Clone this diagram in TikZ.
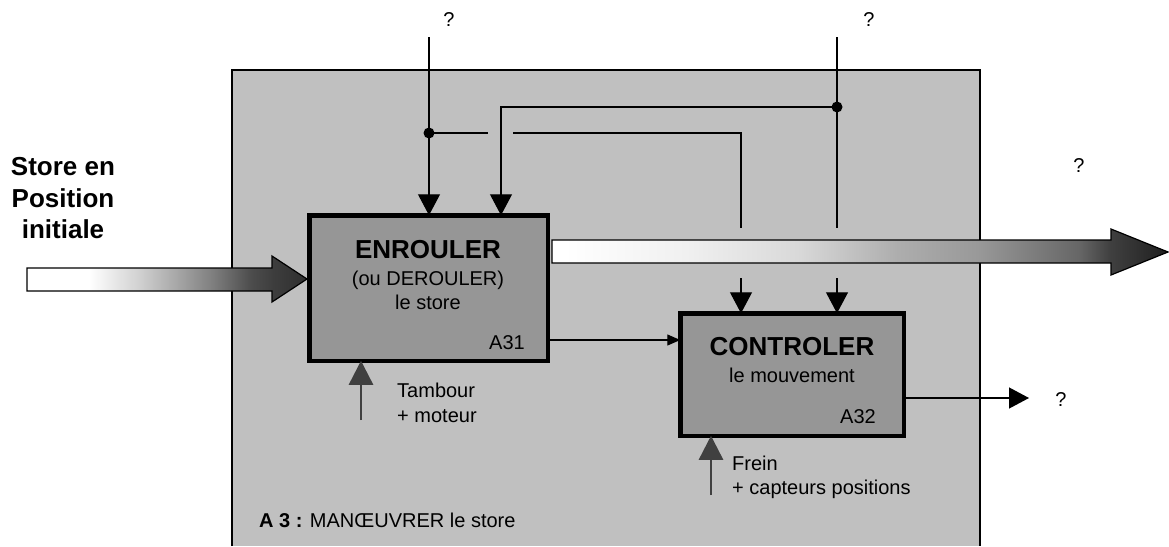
\documentclass[tikz,border=0pt]{standalone}
\usepackage{fontspec}
\setmainfont{Liberation Sans}
\usetikzlibrary{arrows.meta}
\definecolor{contgray}{HTML}{C0C0C0}
\definecolor{boxgray}{HTML}{969696}
\definecolor{mechgray}{HTML}{404040}
\pgfdeclarehorizontalshading{inshade}{100bp}{color(0bp)=(white); color(25bp)=(white); color(36bp)=(white); color(45bp)=(black!18); color(58bp)=(black!50); color(65bp)=(black!70); color(69bp)=(black!76); color(75bp)=(black!82); color(100bp)=(black!82)}
\pgfdeclarehorizontalshading{outshade}{100bp}{color(0bp)=(white); color(26bp)=(white); color(36bp)=(black!6); color(45bp)=(black!15); color(53bp)=(black!32); color(59.5bp)=(black!40); color(67.8bp)=(black!60); color(70.3bp)=(black!75); color(75bp)=(black!88); color(100bp)=(black!88)}
\begin{document}
\begin{tikzpicture}[x=1pt,y=-1pt,
  lbl/.style={font=\fontsize{20}{24}\selectfont, inner sep=0pt},
  ttl/.style={font=\bfseries\fontsize{26}{31}\selectfont, inner sep=0pt},
  fn/.style={draw=black, line width=4.5pt, fill=boxgray, inner sep=0pt, outer sep=0pt},
  sig/.style={line width=1.2pt, -{Triangle[width=22pt,length=21pt]}},
  wire/.style={line width=1.2pt},
  flow/.style={line width=1.2pt, -{Triangle[width=11pt,length=13pt]}},
  outsig/.style={line width=1.2pt, draw=black!60, -{Triangle[width=21pt,length=20pt]}, color=black},
  mech/.style={draw=mechgray, line width=2.5pt, -{Triangle[width=24pt,length=24pt]}, color=mechgray},
  bigarrow/.style={draw=black, line width=1.2pt},
  jdot/.style={fill=black}
]
\useasboundingbox (0,0) rectangle (1169,546);
% container A3
\fill[contgray] (232,70) rectangle (980,546);
\draw[line width=2pt] (232,546) -- (232,70) -- (980,70) -- (980,546);

% function boxes
\node[fn, minimum width=238.5pt, minimum height=145.5pt] (A31) at (428.5,288) {};
\node[fn, minimum width=223.5pt, minimum height=122.5pt] (A32) at (792,374.5) {};

% texts in boxes
\node[ttl, anchor=base] (t31) at (428,258) {ENROULER};
\node[lbl, anchor=base] (t31b) at (428,285) {(ou DEROULER)};
\node[lbl, anchor=base] (t31c) at (428,309) {le store};
\node[lbl, anchor=base east] (n31) at (525,349) {A31};
\node[ttl, anchor=base] (t32) at (792,355) {CONTROLER};
\node[lbl, anchor=base] (t32b) at (792,382) {le mouvement};
\node[lbl, anchor=base east] (n32) at (876,423) {A32};

% input label
\node[ttl, anchor=base] (in1) at (63,175) {Store en};
\node[ttl, anchor=base] (in2) at (63,207) {Position};
\node[ttl, anchor=base] (in3) at (63,238) {initiale};

% question marks
\node[lbl, anchor=base] (q1) at (449,26) {?};
\node[lbl, anchor=base] (q2) at (869,26) {?};
\node[lbl, anchor=base] (q3) at (1079,172) {?};
\node[lbl, anchor=base] (q4) at (1061,406) {?};

% mechanism labels
\node[lbl, anchor=base west] (m1a) at (397,397) {Tambour};
\node[lbl, anchor=base west] (m1b) at (397,422) {+ moteur};
\node[lbl, anchor=base west] (m2a) at (732,470) {Frein};
\node[lbl, anchor=base west] (m2b) at (732,494) {+ capteurs positions};

% container title
\node[lbl, anchor=base west] (title) at (259,527) {\textbf{A 3 :} MANŒUVRER le store};

% big flow arrows
\path[shading=inshade, bigarrow] (27,268) -- (272,268) -- (272,256) -- (307,279) -- (272,302) -- (272,291) -- (27,291) -- cycle;
\path[shading=outshade, bigarrow] (552,240) -- (1111,240) -- (1111,229) -- (1168,252) -- (1111,275) -- (1111,263) -- (552,263) -- cycle;

% control wiring
\coordinate (s1) at (429,37);
\coordinate (s2) at (837,37);
\coordinate (j1) at (429,133);
\coordinate (j2) at (837,107);
\coordinate (g1) at (488,133);
\coordinate (g2) at (513,133);
\coordinate (c1) at (741,133);
\coordinate (k1) at (501,107);
\coordinate (b1) at (741,228);
\coordinate (b1r) at (741,278);
\coordinate (b2) at (837,228);
\coordinate (b2r) at (837,278);

\draw[sig] (s1) -- (j1) -- (A31.north -| j1);
\draw[wire] (j1) -- (g1);
\draw[wire] (g2) -- (c1) -- (b1);
\draw[sig] (b1r) -- (A32.north -| b1r);
\draw[wire] (s2) -- (j2) -- (b2);
\draw[sig] (b2r) -- (A32.north -| b2r);
\draw[sig] (j2) -- (k1) -- (A31.north -| k1);
\fill[jdot] (j1) circle (5.5);
\fill[jdot] (j2) circle (5.5);

% A31 -> A32
\coordinate (f) at (0,340);
\draw[flow] (A31.east |- f) -- (A32.west |- f);

% output of A32
\coordinate (o2) at (1029,398);
\draw[outsig] (A32.east |- o2) -- (o2);

% mechanisms
\coordinate (mc1) at (361,420);
\coordinate (mc2) at (711,495);
\draw[mech] (mc1) -- (A31.south -| mc1);
\draw[mech] (mc2) -- (A32.south -| mc2);
\end{tikzpicture}
\end{document}
